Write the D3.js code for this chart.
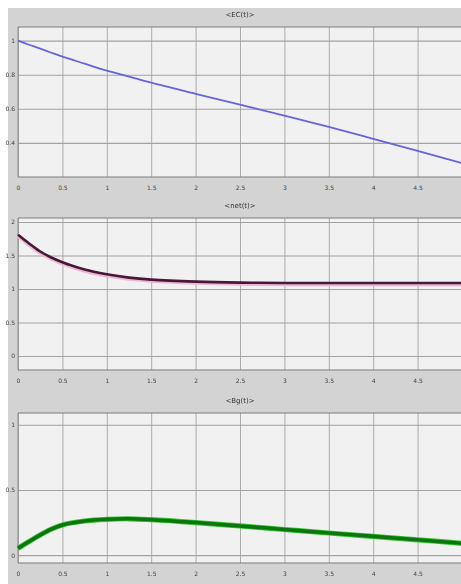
<!DOCTYPE html>
<html>
<head>
<meta charset="utf-8">
<script src="https://cdn.jsdelivr.net/npm/d3@7"></script>
<style>
  body { margin: 0; background: #fff; }
  svg { display: block; filter: blur(0.35px); }
  .tick text { font-family: "DejaVu Sans", sans-serif; font-size: 6px; fill: #444; }
  .title { font-family: "DejaVu Sans", sans-serif; font-size: 7px; fill: #333; }
</style>
</head>
<body>
<div class="svg-container"></div>
<script>
var width = 461;
var height = 584;

// data
var xValues   = [0, 0.125, 0.25, 0.375, 0.5, 0.75, 1, 1.25, 1.5, 2, 2.5, 3, 3.5, 4, 4.5, 5];
var ecValues  = [1.0, 0.976, 0.953, 0.929, 0.906, 0.865, 0.824, 0.789, 0.753, 0.688, 0.624, 0.560, 0.494, 0.424, 0.353, 0.282];
var netValues = [1.81, 1.68, 1.56, 1.47, 1.40, 1.29, 1.22, 1.17, 1.14, 1.11, 1.095, 1.09, 1.09, 1.09, 1.09, 1.09];
var bgValues  = [0.053, 0.105, 0.155, 0.200, 0.232, 0.262, 0.275, 0.279, 0.272, 0.250, 0.224, 0.197, 0.170, 0.144, 0.118, 0.091];

var xTicks = [0, 0.5, 1, 1.5, 2, 2.5, 3, 3.5, 4, 4.5];
var xTickLabels = ["0", "0.5", "1", "1.5", "2", "2.5", "3", "3.5", "4", "4.5"];

var ecTicks  = [0.4, 0.6, 0.8, 1];
var netTicks = [0, 0.5, 1, 1.5, 2];
var bgTicks  = [0, 0.5, 1];

var titles = ["<EC(t)>", "<net(t)>", "<Bg(t)>"];

var svg = d3.select(".svg-container")
            .append("svg")
            .attr("width", width)
            .attr("height", height);

// figure background
svg.append("rect")
   .attr("x", 8).attr("y", 8)
   .attr("width", width - 8).attr("height", height - 8)
   .attr("fill", "#d3d3d3");

var left = 18, right = 462;

var scaleX = d3.scaleLinear().domain([0, 5]).range([left, right]);

function drawPanel(top, bottom, domain, yTicks, values, title, style) {
    var scaleY = d3.scaleLinear().domain(domain).range([bottom, top]);
    var g = svg.append("g");

    g.append("rect")
     .attr("x", left).attr("y", top)
     .attr("width", right - left).attr("height", bottom - top)
     .attr("fill", "#f1f1f1");

    // vertical grid + x labels
    var xAxis = g.append("g")
                 .attr("transform", "translate(0," + bottom + ")")
                 .call(d3.axisBottom(scaleX)
                         .tickValues(xTicks)
                         .tickSize(-(bottom - top))
                         .tickPadding(9)
                         .tickFormat(function(d, i) { return xTickLabels[i]; }));
    xAxis.select(".domain").remove();
    xAxis.selectAll("line").attr("stroke", "#9a9a9a").attr("stroke-width", 0.8);

    // horizontal grid + y labels
    var yAxis = g.append("g")
                 .attr("transform", "translate(" + left + ",0)")
                 .call(d3.axisLeft(scaleY)
                         .tickValues(yTicks)
                         .tickSize(-(right - left))
                         .tickPadding(3)
                         .tickFormat(d3.format("")));
    yAxis.select(".domain").remove();
    yAxis.selectAll("line").attr("stroke", "#a2a2a2").attr("stroke-width", 1.1);

    // frame lines
    g.append("line").attr("x1", left).attr("x2", right).attr("y1", top).attr("y2", top)
     .attr("stroke", "#7c7c7c").attr("stroke-width", 1.2);
    g.append("line").attr("x1", left).attr("x2", right).attr("y1", bottom).attr("y2", bottom)
     .attr("stroke", "#7c7c7c").attr("stroke-width", 1.2);
    g.append("line").attr("x1", left).attr("x2", left).attr("y1", top).attr("y2", bottom)
     .attr("stroke", "#8a8a8a").attr("stroke-width", 1);

    var line = d3.line()
                 .curve(d3.curveCatmullRom)
                 .x(function(d, i) { return scaleX(xValues[i]); })
                 .y(function(d) { return scaleY(d); });

    if (style.halo) {
        g.append("path")
         .datum(values)
         .attr("fill", "none")
         .attr("stroke", style.halo)
         .attr("stroke-width", style.haloWidth)
         .attr("transform", "translate(0," + (style.haloShift || 0) + ")")
         .attr("d", line);
    }
    g.append("path")
     .datum(values)
     .attr("fill", "none")
     .attr("stroke", style.color)
     .attr("stroke-width", style.width)
     .attr("d", line);

    svg.append("text")
       .attr("class", "title")
       .attr("x", 240)
       .attr("y", top - 10)
       .attr("text-anchor", "middle")
       .text(title);
}

drawPanel(27, 177, [0.2, 1.08], ecTicks, ecValues, titles[0],
          { color: "#6464dc", width: 1.8 });
drawPanel(218, 370, [-0.21, 2.06], netTicks, netValues, titles[1],
          { color: "#4a1836", width: 2.6, halo: "#e9b9d3", haloWidth: 4, haloShift: 1.2 });
drawPanel(413, 563, [-0.06, 1.09], bgTicks, bgValues, titles[2],
          { color: "#0b760b", width: 3.6, halo: "#3cc23c", haloWidth: 5.2 });
</script>
</body>
</html>
